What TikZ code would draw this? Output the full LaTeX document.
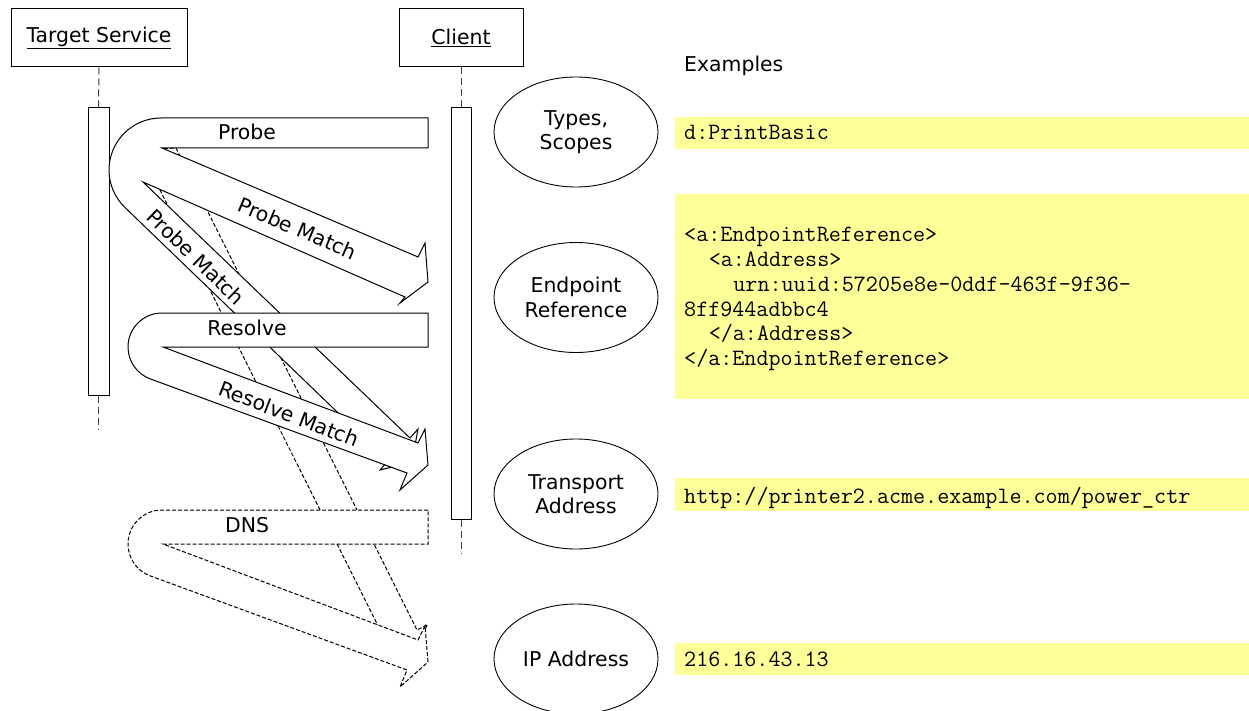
\documentclass[tikz,border=0pt]{standalone}
\usepackage{fontspec}
\setmainfont{DejaVu Sans}
\usetikzlibrary{shapes.geometric}
\definecolor{ylw}{RGB}{255,255,153}
\begin{document}
\begin{tikzpicture}[x=1pt,y=1pt,
  lbl/.style={font=\fontsize{20.4}{24}\selectfont, inner sep=0pt},
  mono/.style={font=\ttfamily\fontsize{23.4}{24.7}\selectfont, anchor=base west, inner sep=0pt},
  objbox/.style={draw, line width=1pt, minimum height=58pt, inner sep=0pt, font=\fontsize{20.4}{24}\selectfont},
  circ/.style={draw, line width=0.9pt, ellipse, minimum width=164pt, minimum height=110pt, inner sep=0pt, align=center, font=\fontsize{20.4}{24.5}\selectfont},
  life/.style={draw=black!75, line width=1pt, dash pattern=on 7pt off 4pt},
  act/.style={draw, fill=white, line width=1pt, inner sep=0pt},
  ushape/.style={draw, fill=white, line width=1pt, line join=miter},
  dshape/.style={ushape, dash pattern=on 4pt off 2pt}]
\useasboundingbox (0,0) rectangle (1249,-711);
\fill[white] (0,0) rectangle (1249,-711);

% object boxes and lifelines
\node[objbox, minimum width=176pt] (ts) at (99,-38) {\underline{Target Service}};
\node[objbox, minimum width=124pt] (cl) at (461,-38) {\underline{Client}};
\node[act, minimum width=21pt, minimum height=287pt] (ta) at (98.5,-251.5) {};
\node[act, minimum width=20pt, minimum height=411pt] (ca) at (461,-313.5) {};
\coordinate (tend) at (98.5,-430);
\coordinate (cend) at (461,-553);
\draw[life] (ts.south) -- (ta.north);
\draw[life] (ta.south) -- (tend);
\draw[life] (cl.south) -- (ca.north);
\draw[life] (ca.south) -- (cend);

% examples
\node[lbl, anchor=west] (ex) at (684,-66) {Examples};
\fill[ylw] (675,-117) rectangle (1249,-149);
\fill[ylw] (675,-194) rectangle (1249,-399);
\fill[ylw] (675,-478) rectangle (1249,-511);
\fill[ylw] (675,-643) rectangle (1249,-675);
\node[mono] (x1) at (684,-140) {d:PrintBasic};
\node[mono] (x2a) at (684,-242) {<a:EndpointReference>};
\node[mono] (x2b) at (708.6,-266.7) {<a:Address>};
\node[mono] (x2c) at (733.2,-291.4) {urn:uuid:57205e8e-0ddf-463f-9f36-};
\node[mono] (x2d) at (684,-316.1) {8ff944adbbc4};
\node[mono] (x2e) at (708.6,-340.8) {</a:Address>};
\node[mono] (x2f) at (684,-365.5) {</a:EndpointReference>};
\node[mono] (x3) at (684,-503) {http://printer2.acme.example.com/power\_ctr};
\node[mono] (x4) at (684,-666) {216.16.43.13};

% ellipses
\node[circ] (e1) at (576,-132) {Types,\\Scopes};
\node[circ] (e2) at (576,-297.5) {Endpoint\\Reference};
\node[circ] (e3) at (576,-494) {Transport\\Address};
\node[circ] (e4) at (576,-659) {IP Address};

% dashed IP shaft of the probe (lowest layer)
\draw[dshape] (140,-150) -- (176,-148) -- (417,-630) -- (427.7,-624.6) -- (410,-653)
  -- (377,-650) -- (387.5,-644.8) -- cycle;

% probe group
\draw[ushape] (428,-118) -- (161,-118) arc[start angle=90, end angle=226.3, radius=52pt]
  -- (388,-461) -- (380,-470) -- (412,-462) -- (418,-429) -- (410,-438)
  -- (143,-182) -- (405,-297) -- (400,-303) -- (428,-282) -- (425,-243) -- (418,-257)
  -- (162,-148) -- (428,-148) -- cycle;

% resolve group
\draw[ushape] (428,-313) -- (162,-313) arc[start angle=90, end angle=249.7, radius=34pt]
  -- (407,-473) -- (400,-490) -- (428,-465) -- (425,-429) -- (418,-443)
  -- (163,-347) -- (428,-347) -- cycle;

% dns group
\draw[dshape] (428,-510) -- (162,-510) arc[start angle=90, end angle=249.7, radius=34pt]
  -- (407,-670) -- (400,-687) -- (428,-662) -- (425,-626) -- (418,-640)
  -- (163,-544) -- (428,-544) -- cycle;

% labels
\node[lbl] (lp) at (247,-132) {Probe};
\node[lbl] (lr) at (247,-328) {Resolve};
\node[lbl] (ld) at (247,-525) {DNS};
\node[lbl, rotate=-23] (lpm1) at (297.5,-228.5) {Probe Match};
\node[lbl, rotate=-44] (lpm2) at (196,-257) {Probe Match};
\node[lbl, rotate=-21] (lrm) at (289,-414) {Resolve Match};
\end{tikzpicture}
\end{document}
